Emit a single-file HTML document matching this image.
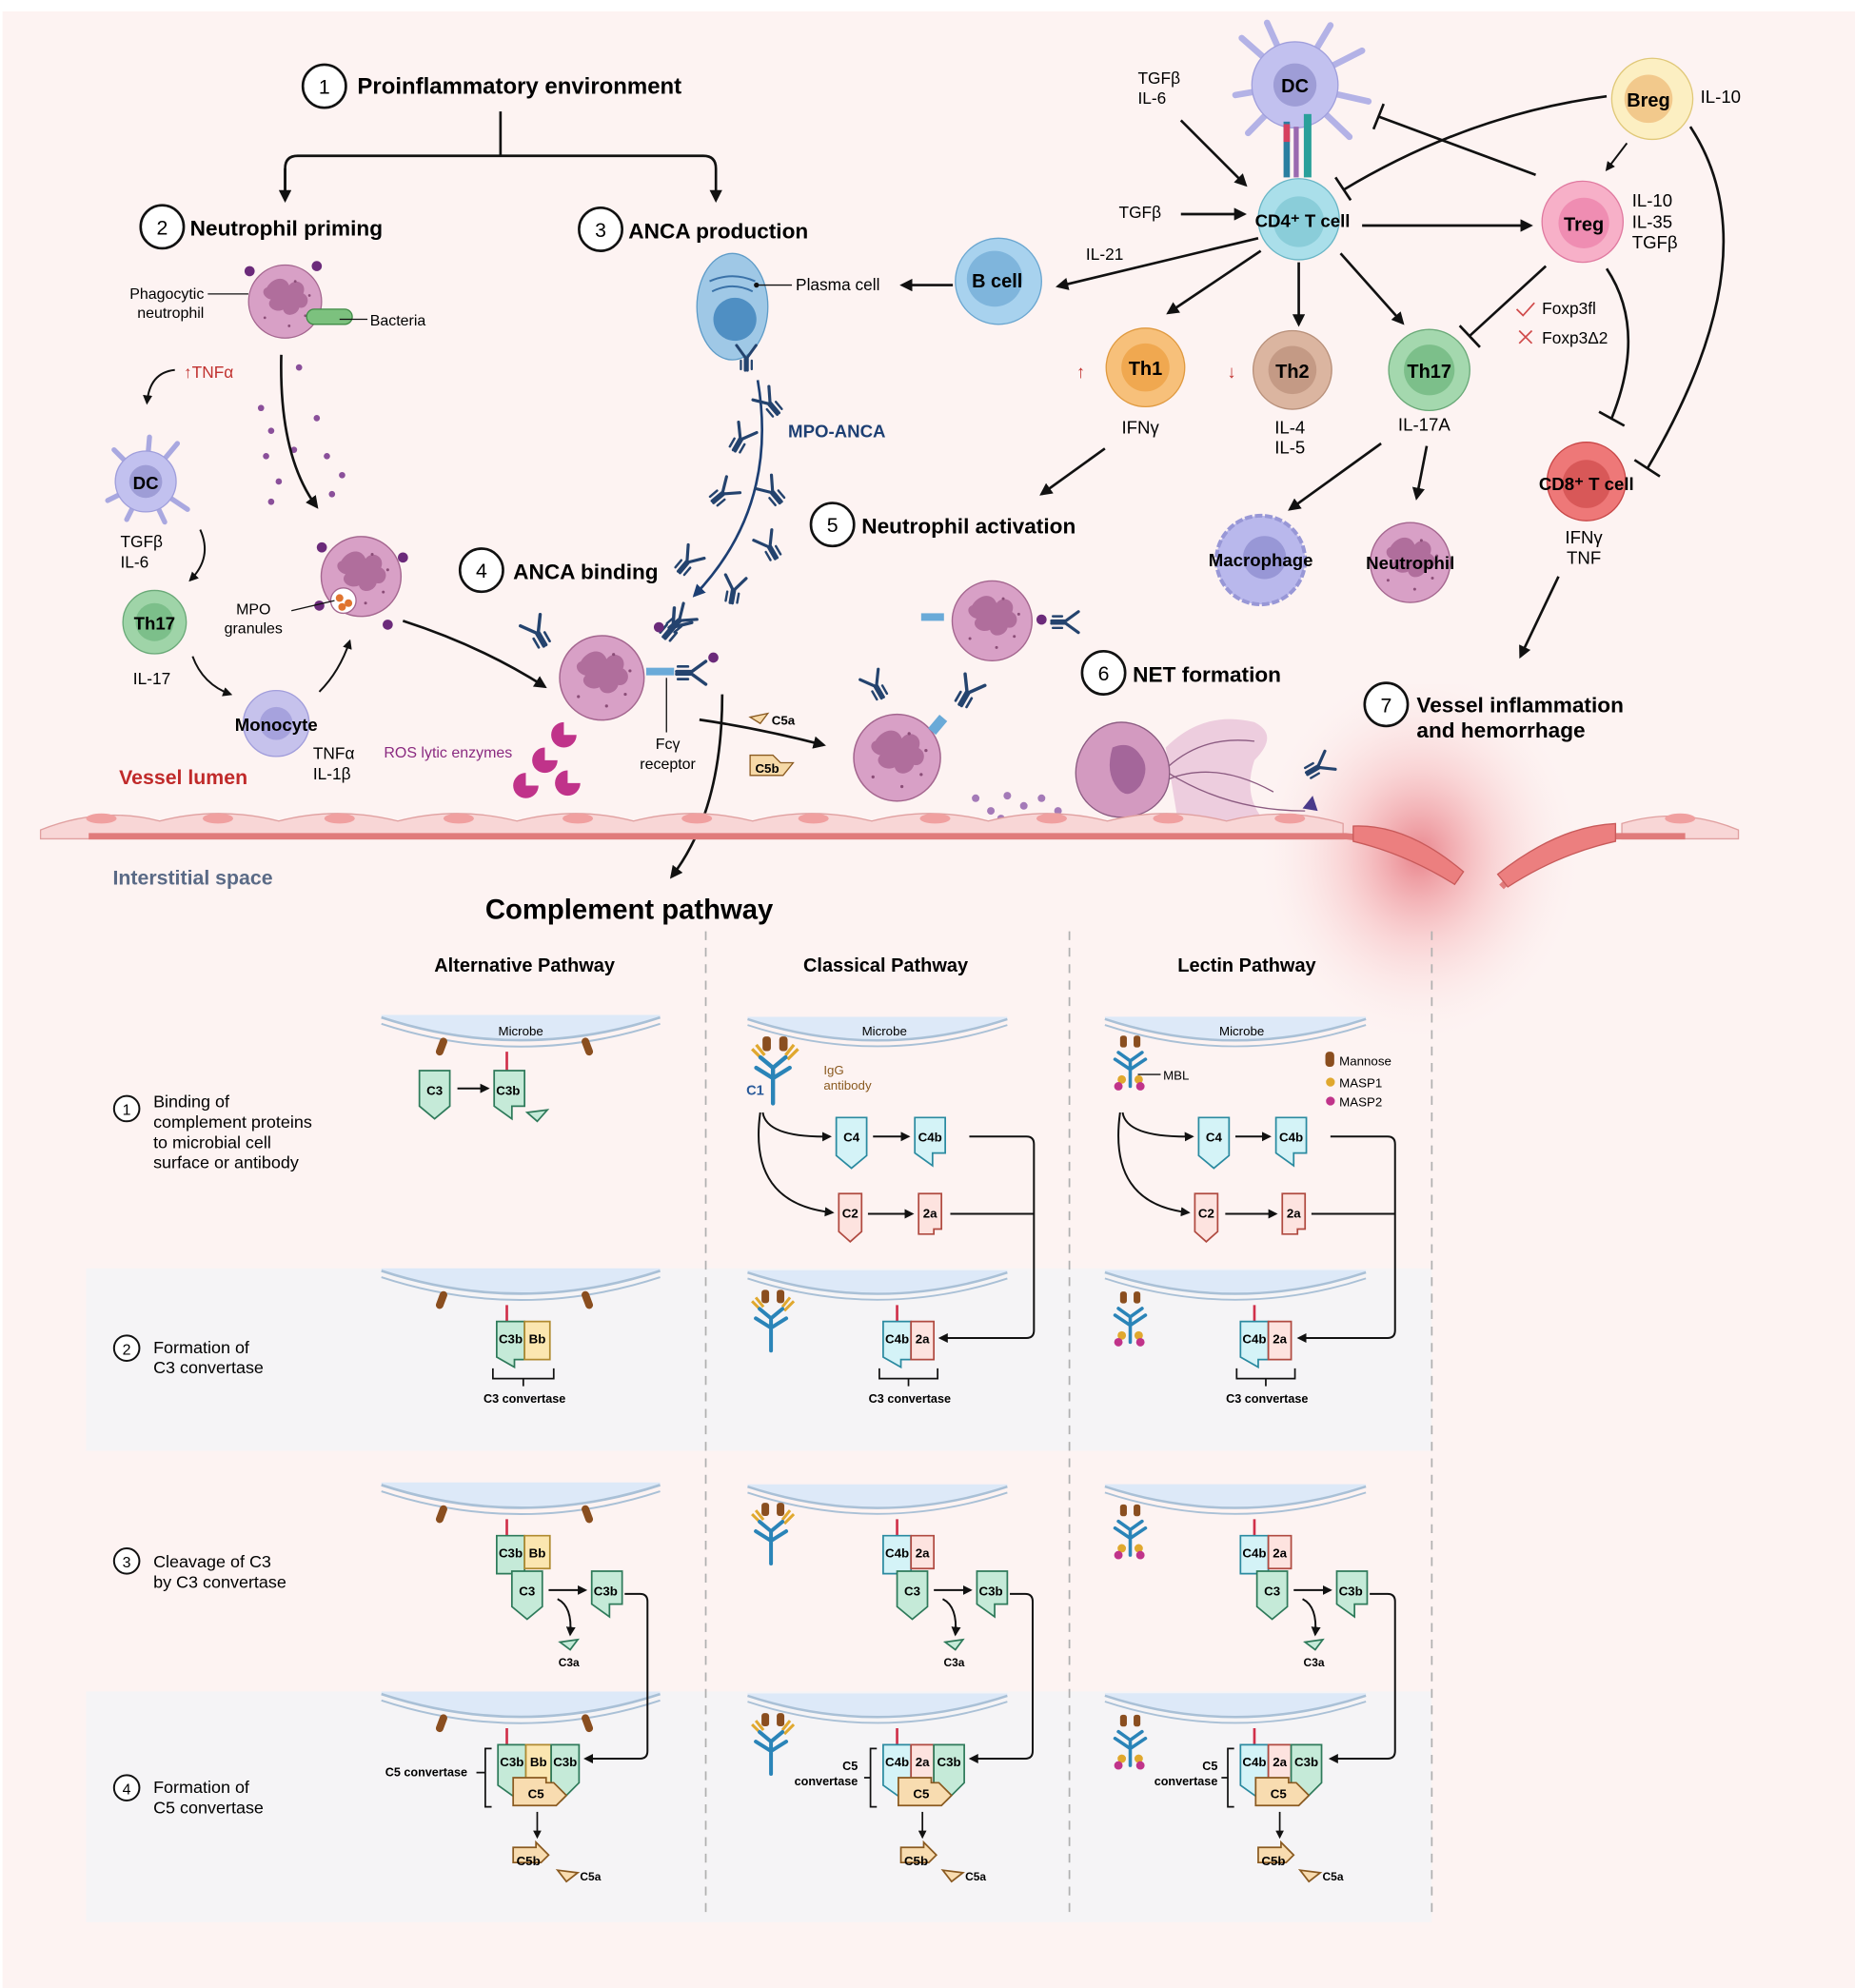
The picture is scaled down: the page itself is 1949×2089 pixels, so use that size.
<!DOCTYPE html>
<html><head><meta charset="utf-8"><style>
html,body{margin:0;padding:0;background:#fff;}
svg{display:block;font-family:"Liberation Sans",sans-serif;}
.b{font-weight:bold;}
</style></head><body>
<svg width="1949" height="2089" viewBox="0 0 1464 1569" preserveAspectRatio="none">
<defs>
<marker id="ar" viewBox="0 0 10 10" refX="8" refY="5" markerWidth="5" markerHeight="5" orient="auto"><path d="M0,0L10,5L0,10z" fill="#111"/></marker>
<marker id="arb" viewBox="0 0 10 10" refX="8" refY="5" markerWidth="5" markerHeight="5" orient="auto"><path d="M0,0L10,5L0,10z" fill="#1d3f73"/></marker>
<radialGradient id="glow" cx="0.5" cy="0.45" r="0.5"><stop offset="0" stop-color="#e05560" stop-opacity="0.7"/><stop offset="0.45" stop-color="#f08a90" stop-opacity="0.3"/><stop offset="1" stop-color="#fdf3f2" stop-opacity="0"/></radialGradient>
<symbol id="neu" viewBox="-40 -40 80 80" overflow="visible">
<circle r="36" fill="#d8a0c6" stroke="#a4668f" stroke-width="1.2"/>
<path d="M-18,-14c6,-10 18,-12 22,-2c6,-8 18,-2 14,8c8,4 4,16 -4,14c-2,8 -14,10 -16,2c-8,4 -18,-4 -12,-10c-8,-2 -10,-10 -4,-12z" fill="#b06e9c"/>
<circle cx="10" cy="-20" r="1.3" fill="#8a4d77"/><circle cx="20" cy="14" r="1.3" fill="#8a4d77"/><circle cx="-20" cy="16" r="1.3" fill="#8a4d77"/><circle cx="4" cy="24" r="1.3" fill="#8a4d77"/><circle cx="24" cy="-6" r="1.3" fill="#8a4d77"/>
</symbol>
<symbol id="ab" viewBox="-12 -14 24 28" overflow="visible">
<g stroke="#24436e" stroke-width="2.6" fill="none" stroke-linecap="round"><path d="M-1,12V0L-9,-11M1,12V0L9,-11"/><path d="M-5,11V3M5,11V3" stroke-width="2"/></g>
</symbol>
<symbol id="mic" viewBox="0 0 220 40" overflow="visible">
<path d="M0,0Q110,36 220,0V-2H0z" fill="#dde9f8"/>
<path d="M0,0Q110,36 220,0" fill="none" stroke="#a9c0d6" stroke-width="2"/>
<path d="M0,5Q110,41 220,5" fill="none" stroke="#a9c0d6" stroke-width="1.5"/>
</symbol>
<symbol id="mbl" viewBox="0 0 60 80" overflow="visible">
<rect x="12" y="0" width="8" height="14" rx="3" fill="#8a4e1f"/><rect x="28" y="0" width="8" height="14" rx="3" fill="#8a4e1f"/>
<g stroke="#2a84b8" stroke-width="4" fill="none" stroke-linecap="round"><path d="M24,60V30L10,20M24,30L38,20M24,40L6,28M24,40L42,28"/></g>
<circle cx="14" cy="52" r="5" fill="#e0a82e"/><circle cx="34" cy="52" r="5" fill="#e0a82e"/><circle cx="10" cy="60" r="5" fill="#c0338a"/><circle cx="36" cy="60" r="5" fill="#c0338a"/>
</symbol>
<symbol id="igg" viewBox="0 0 60 80" overflow="visible">
<rect x="14" y="0" width="8" height="14" rx="3" fill="#8a4e1f"/><rect x="30" y="0" width="8" height="14" rx="3" fill="#8a4e1f"/>
<g stroke="#e0a82e" stroke-width="3" fill="none"><path d="M4,12L14,22M8,8L16,18M48,12L38,22M44,8L36,18"/></g>
<g stroke="#2a84b8" stroke-width="4" fill="none" stroke-linecap="round"><path d="M24,64V30L12,20M24,30L36,20M24,40L8,30M24,40L40,30"/></g>
</symbol>
</defs>

<rect x="0" y="0" width="1464" height="1569" fill="#fdf3f2"/>
<rect x="0" y="0" width="1464" height="9" fill="#fff"/>
<rect x="0" y="0" width="2" height="1569" fill="#fff"/>
<rect x="68" y="1001" width="1062" height="144" fill="#f5f4f6"/>
<rect x="68" y="1335" width="1062" height="182" fill="#f5f4f6"/>
<rect x="990" y="540" width="260" height="300" fill="url(#glow)"/>

<circle cx="256" cy="68" r="17" fill="#fff" stroke="#111" stroke-width="2"/><text x="256" y="74" font-size="16" text-anchor="middle">1</text>
<text x="282" y="74" font-size="18" class="b">Proinflammatory environment</text>
<path d="M395,88V123H235Q225,123 225,133V158M395,123H555Q565,123 565,133V158" fill="none" stroke="#111" stroke-width="2" marker-end="url(#ar)"/>
<path d="M225,133V158" fill="none" stroke="#111" stroke-width="2" marker-end="url(#ar)"/>

<circle cx="128" cy="179" r="17" fill="#fff" stroke="#111" stroke-width="2"/><text x="128" y="185" font-size="16" text-anchor="middle">2</text>
<text x="150" y="186" font-size="17" class="b">Neutrophil priming</text>
<circle cx="474" cy="181" r="17" fill="#fff" stroke="#111" stroke-width="2"/><text x="474" y="187" font-size="16" text-anchor="middle">3</text>
<text x="496" y="188" font-size="17" class="b">ANCA production</text>

<use href="#neu" x="193" y="206" width="64" height="64"/>
<circle cx="197" cy="214" r="4" fill="#6b2a7a"/><circle cx="250" cy="210" r="4" fill="#6b2a7a"/>
<rect x="242" y="244" width="36" height="12" rx="6" fill="#7cc17e" stroke="#3f8a45"/>
<text x="161" y="236" font-size="12" text-anchor="end">Phagocytic</text><text x="161" y="251" font-size="12" text-anchor="end">neutrophil</text>
<line x1="164" y1="232" x2="196" y2="232" stroke="#111"/>
<line x1="268" y1="252" x2="290" y2="252" stroke="#111"/>
<text x="292" y="257" font-size="12">Bacteria</text>
<text x="145" y="298" font-size="13" fill="#c0302e">↑TNFα</text>
<path d="M138,292Q118,294 116,318" fill="none" stroke="#111" stroke-width="1.5" marker-end="url(#ar)"/>
<g fill="#8a4f9a"><circle cx="206" cy="322" r="2.5"/><circle cx="214" cy="340" r="2.5"/><circle cx="210" cy="360" r="2.5"/><circle cx="220" cy="380" r="2.5"/><circle cx="232" cy="355" r="2.5"/><circle cx="250" cy="330" r="2.5"/><circle cx="258" cy="360" r="2.5"/><circle cx="270" cy="375" r="2.5"/><circle cx="262" cy="390" r="2.5"/><circle cx="214" cy="396" r="2.5"/><circle cx="236" cy="290" r="2.5"/></g>
<path d="M222,280Q220,360 250,400" fill="none" stroke="#111" stroke-width="2" marker-end="url(#ar)"/>

<g stroke="#a9a8e0" stroke-width="4" stroke-linecap="round"><path d="M115,380L90,355M115,380L140,350M115,380L85,395M115,380L148,402M115,380L100,410M115,380L130,412M115,380L118,345"/></g>
<circle cx="115" cy="380" r="24" fill="#c2c1ef" stroke="#9f9edb"/><circle cx="115" cy="380" r="13" fill="#9e9dd6"/>
<text x="115" y="386" font-size="14" text-anchor="middle" class="b">DC</text>
<text x="95" y="432" font-size="13">TGFβ</text><text x="95" y="448" font-size="13">IL-6</text>
<path d="M158,418Q168,440 150,458" fill="none" stroke="#111" stroke-width="1.5" marker-end="url(#ar)"/>
<circle cx="122" cy="491" r="25" fill="#9fd4a8" stroke="#6aa978"/><circle cx="122" cy="491" r="15" fill="#7cbf8a"/>
<text x="122" y="497" font-size="14" text-anchor="middle" class="b">Th17</text>
<text x="105" y="540" font-size="13">IL-17</text>
<path d="M152,518Q160,540 182,548" fill="none" stroke="#111" stroke-width="1.5" marker-end="url(#ar)"/>
<circle cx="218" cy="571" r="26" fill="#c6c2ec" stroke="#a19ddb"/><circle cx="218" cy="571" r="13" fill="#a6a2dd"/>
<text x="218" y="577" font-size="14" text-anchor="middle" class="b">Monocyte</text>
<text x="247" y="599" font-size="13">TNFα</text><text x="247" y="615" font-size="13">IL-1β</text>
<path d="M252,546Q268,530 276,506" fill="none" stroke="#111" stroke-width="1.5" marker-end="url(#ar)"/>

<use href="#neu" x="250" y="420" width="70" height="70"/>
<circle cx="271" cy="474" r="10" fill="#fff" stroke="#a4668f"/><circle cx="268" cy="472" r="3" fill="#e0742e"/><circle cx="275" cy="476" r="3" fill="#e0742e"/><circle cx="270" cy="479" r="3" fill="#e0742e"/>
<g fill="#6b2a7a"><circle cx="254" cy="432" r="4"/><circle cx="318" cy="440" r="4"/><circle cx="306" cy="493" r="4"/><circle cx="252" cy="478" r="4"/></g>
<text x="200" y="485" font-size="12" text-anchor="middle">MPO</text><text x="200" y="500" font-size="12" text-anchor="middle">granules</text>
<line x1="230" y1="482" x2="264" y2="474" stroke="#111"/>
<path d="M318,490Q380,510 430,542" fill="none" stroke="#111" stroke-width="2" marker-end="url(#ar)"/>

<circle cx="380" cy="450" r="17" fill="#fff" stroke="#111" stroke-width="2"/><text x="380" y="456" font-size="16" text-anchor="middle">4</text>
<text x="405" y="457" font-size="17" class="b">ANCA binding</text>

<use href="#neu" x="438" y="498" width="74" height="74"/>
<use href="#ab" x="412" y="485" width="24" height="28" transform="rotate(-30 424 499)"/>
<use href="#ab" x="520" y="480" width="24" height="28" transform="rotate(40 532 494)"/>
<rect x="510" y="527" width="22" height="6" fill="#6aaad8"/>
<use href="#ab" x="534" y="517" width="24" height="28" transform="rotate(90 546 531)"/>
<circle cx="563" cy="519" r="4" fill="#6b2a7a"/><circle cx="520" cy="495" r="4" fill="#6b2a7a"/>
<line x1="526" y1="535" x2="526" y2="578" stroke="#111"/>
<text x="527" y="591" font-size="12" text-anchor="middle">Fcγ</text><text x="527" y="607" font-size="12" text-anchor="middle">receptor</text>
<g fill="#c0338a"><path d="M445,570a10,10 0 1 0 10,10h-10z"/><path d="M430,590a10,10 0 1 0 10,10h-10z"/><path d="M415,610a10,10 0 1 0 10,10h-10z"/><path d="M448,608a10,10 0 1 0 10,10h-10z"/></g>
<text x="303" y="598" font-size="12" fill="#8a2a80">ROS lytic enzymes</text>
<text x="94" y="619" font-size="16" class="b" fill="#c02a2a">Vessel lumen</text>

<ellipse cx="578" cy="242" rx="28" ry="42" fill="#9fc8e6" stroke="#5f9cc8"/>
<circle cx="580" cy="252" r="17" fill="#4f8fc3"/>
<path d="M560,222Q578,214 596,222M562,230Q578,222 594,230" fill="none" stroke="#3a72a8" stroke-width="1.5"/>
<circle cx="597" cy="225" r="2" fill="#111"/><line x1="597" y1="225" x2="625" y2="225" stroke="#111"/>
<text x="628" y="229" font-size="13">Plasma cell</text>
<use href="#ab" x="578" y="270" width="22" height="24"/>
<circle cx="788" cy="222" r="34" fill="#a8d2ee" stroke="#6aa6d0"/><circle cx="785" cy="220" r="22" fill="#7fb5dc"/>
<text x="787" y="227" font-size="15" text-anchor="middle" class="b">B cell</text>
<line x1="752" y1="225" x2="712" y2="225" stroke="#111" stroke-width="2" marker-end="url(#ar)"/>
<path d="M598,300Q615,400 548,470" fill="none" stroke="#1d3f73" stroke-width="2" marker-end="url(#arb)"/>
<text x="622" y="345" font-size="14" class="b" fill="#1d3f73">MPO-ANCA</text>
<use href="#ab" x="596" y="305" width="22" height="26" transform="rotate(-40 607 318)"/>
<use href="#ab" x="574" y="333" width="22" height="26" transform="rotate(30 585 346)"/>
<use href="#ab" x="560" y="376" width="22" height="26" transform="rotate(50 571 389)"/>
<use href="#ab" x="598" y="375" width="22" height="26" transform="rotate(-40 609 388)"/>
<use href="#ab" x="596" y="418" width="22" height="26" transform="rotate(-30 607 431)"/>
<use href="#ab" x="532" y="430" width="22" height="26" transform="rotate(40 543 443)"/>
<use href="#ab" x="568" y="452" width="22" height="26" transform="rotate(10 579 465)"/>
<use href="#ab" x="526" y="476" width="22" height="26" transform="rotate(50 537 489)"/>
<path d="M570,548Q570,640 530,692" fill="none" stroke="#111" stroke-width="2" marker-end="url(#ar)"/>
<path d="M552,568Q600,575 650,588" fill="none" stroke="#111" stroke-width="2" marker-end="url(#ar)"/>
<path d="M592,566l14,-3l-6,8z" fill="#f6d9a8" stroke="#8a5a20"/><text x="609" y="572" font-size="10" class="b">C5a</text>
<path d="M592,596h18l6,6h10l-8,10h-26z" fill="#f6d9a8" stroke="#8a5a20"/><text x="596" y="610" font-size="10" class="b">C5b</text>

<g stroke="#b3b2e6" stroke-width="5" stroke-linecap="round"><path d="M1022,67L980,30M1022,67L1000,18M1022,67L1050,20M1022,67L1075,40M1022,67L1080,80M1022,67L975,75M1022,67L985,105M1022,67L1065,108"/></g>
<circle cx="1022" cy="67" r="34" fill="#c2c1ef" stroke="#a09fdc"/><circle cx="1022" cy="67" r="17" fill="#9e9dd6"/>
<text x="1022" y="73" font-size="15" text-anchor="middle" class="b">DC</text>
<g><rect x="1013" y="96" width="5" height="44" fill="#2a7ea0"/><rect x="1013" y="98" width="5" height="14" fill="#d6405e"/><rect x="1021" y="100" width="4" height="40" fill="#9a6ab0"/><rect x="1029" y="90" width="6" height="50" fill="#2aa09a"/></g>
<text x="898" y="66" font-size="13">TGFβ</text><text x="898" y="82" font-size="13">IL-6</text>
<line x1="932" y1="95" x2="983" y2="146" stroke="#111" stroke-width="2" marker-end="url(#ar)"/>
<text x="883" y="172" font-size="13">TGFβ</text>
<line x1="932" y1="169" x2="982" y2="169" stroke="#111" stroke-width="2" marker-end="url(#ar)"/>
<circle cx="1025" cy="173" r="32" fill="#aadfea" stroke="#6ab6c6"/><circle cx="1025" cy="175" r="20" fill="#8acdd9"/>
<text x="1028" y="179" font-size="14" text-anchor="middle" class="b">CD4⁺ T cell</text>
<text x="857" y="205" font-size="13">IL-21</text>
<line x1="993" y1="188" x2="835" y2="226" stroke="#111" stroke-width="2" marker-end="url(#ar)"/>
<line x1="1075" y1="178" x2="1208" y2="178" stroke="#111" stroke-width="2" marker-end="url(#ar)"/>
<line x1="995" y1="198" x2="922" y2="247" stroke="#111" stroke-width="2" marker-end="url(#ar)"/>
<line x1="1025" y1="207" x2="1025" y2="256" stroke="#111" stroke-width="2" marker-end="url(#ar)"/>
<line x1="1058" y1="200" x2="1107" y2="255" stroke="#111" stroke-width="2" marker-end="url(#ar)"/>
<circle cx="1304" cy="78" r="32" fill="#fcefc2" stroke="#e0c878"/><circle cx="1301" cy="78" r="19" fill="#f2c98c"/>
<text x="1301" y="84" font-size="15" text-anchor="middle" class="b">Breg</text>
<text x="1342" y="81" font-size="14">IL-10</text>
<path d="M1268,76Q1160,90 1060,150" fill="none" stroke="#111" stroke-width="2"/><line x1="1054" y1="140" x2="1066" y2="158" stroke="#111" stroke-width="2"/>
<line x1="1212" y1="138" x2="1088" y2="92" stroke="#111" stroke-width="2"/><line x1="1092" y1="82" x2="1084" y2="102" stroke="#111" stroke-width="2"/>
<line x1="1284" y1="113" x2="1268" y2="134" stroke="#111" stroke-width="1.5" marker-end="url(#ar)"/>
<circle cx="1249" cy="175" r="32" fill="#f7b0c8" stroke="#e07aa0"/><circle cx="1250" cy="176" r="20" fill="#ef8db2"/>
<text x="1250" y="182" font-size="15" text-anchor="middle" class="b">Treg</text>
<text x="1288" y="163" font-size="14">IL-10</text><text x="1288" y="180" font-size="14">IL-35</text><text x="1288" y="196" font-size="14">TGFβ</text>
<line x1="1220" y1="210" x2="1160" y2="265" stroke="#111" stroke-width="2"/><line x1="1152" y1="257" x2="1168" y2="274" stroke="#111" stroke-width="2"/>
<path d="M1197,244l5,5l9,-10" fill="none" stroke="#d04a4a" stroke-width="1.3"/><text x="1217" y="248" font-size="13">Foxp3fl</text>
<path d="M1199,261l10,10M1209,261l-10,10" stroke="#d04a4a" stroke-width="1.3"/><text x="1217" y="271" font-size="13">Foxp3Δ2</text>
<path d="M1268,212Q1300,260 1272,330" fill="none" stroke="#111" stroke-width="2"/><line x1="1262" y1="325" x2="1282" y2="336" stroke="#111" stroke-width="2"/>
<path d="M1334,100Q1400,200 1300,370" fill="none" stroke="#111" stroke-width="2"/><line x1="1290" y1="363" x2="1310" y2="376" stroke="#111" stroke-width="2"/>
<circle cx="904" cy="290" r="31" fill="#f7c07a" stroke="#e09a40"/><circle cx="904" cy="290" r="19" fill="#f0a850"/>
<text x="904" y="296" font-size="15" text-anchor="middle" class="b">Th1</text>
<text x="853" y="298" font-size="14" fill="#c0302e" text-anchor="middle">↑</text>
<circle cx="1020" cy="292" r="31" fill="#dbb5a0" stroke="#b8907a"/><circle cx="1020" cy="292" r="19" fill="#c49a85"/>
<text x="1020" y="298" font-size="15" text-anchor="middle" class="b">Th2</text>
<text x="972" y="298" font-size="14" fill="#c0302e" text-anchor="middle">↓</text>
<circle cx="1128" cy="292" r="32" fill="#a4d8ae" stroke="#6aa978"/><circle cx="1128" cy="292" r="20" fill="#7cbf8a"/>
<text x="1128" y="298" font-size="15" text-anchor="middle" class="b">Th17</text>
<text x="900" y="342" font-size="14" text-anchor="middle">IFNγ</text>
<text x="1018" y="342" font-size="14" text-anchor="middle">IL-4</text><text x="1018" y="358" font-size="14" text-anchor="middle">IL-5</text>
<text x="1124" y="340" font-size="14" text-anchor="middle">IL-17A</text>
<line x1="872" y1="354" x2="822" y2="390" stroke="#111" stroke-width="2" marker-end="url(#ar)"/>
<line x1="1090" y1="350" x2="1018" y2="402" stroke="#111" stroke-width="2" marker-end="url(#ar)"/>
<line x1="1126" y1="352" x2="1118" y2="393" stroke="#111" stroke-width="2" marker-end="url(#ar)"/>
<circle cx="657" cy="414" r="17" fill="#fff" stroke="#111" stroke-width="2"/><text x="657" y="420" font-size="16" text-anchor="middle">5</text>
<text x="680" y="421" font-size="17" class="b">Neutrophil activation</text>
<circle cx="995" cy="442" r="35" fill="#b9b8ec" stroke="#9897d6" stroke-dasharray="6 2" stroke-width="3"/><circle cx="998" cy="440" r="17" fill="#9897d6"/>
<text x="995" y="447" font-size="14" text-anchor="middle" class="b">Macrophage</text>
<use href="#neu" x="1078" y="409" width="70" height="70"/>
<text x="1113" y="449" font-size="14" text-anchor="middle" class="b">Neutrophil</text>
<circle cx="1252" cy="380" r="31" fill="#ee7878" stroke="#c84848"/><circle cx="1252" cy="382" r="19" fill="#d85858"/>
<text x="1252" y="387" font-size="14" text-anchor="middle" class="b">CD8⁺ T cell</text>
<text x="1250" y="429" font-size="14" text-anchor="middle">IFNγ</text><text x="1250" y="445" font-size="14" text-anchor="middle">TNF</text>
<line x1="1230" y1="455" x2="1200" y2="518" stroke="#111" stroke-width="2" marker-end="url(#ar)"/>

<use href="#neu" x="748" y="455" width="70" height="70"/>
<rect x="727" y="484" width="18" height="6" fill="#6aaad8"/><circle cx="822" cy="489" r="4" fill="#6b2a7a"/>
<use href="#ab" x="830" y="478" width="22" height="26" transform="rotate(90 841 491)"/>
<use href="#neu" x="670" y="560" width="76" height="76"/>
<use href="#ab" x="680" y="528" width="22" height="26" transform="rotate(-30 691 541)"/>
<rect x="736" y="565" width="8" height="14" fill="#6aaad8" transform="rotate(40 740 572)"/>
<use href="#ab" x="752" y="532" width="24" height="28" transform="rotate(30 764 546)"/>
<circle cx="871" cy="531" r="17" fill="#fff" stroke="#111" stroke-width="2"/><text x="871" y="537" font-size="16" text-anchor="middle">6</text>
<text x="894" y="538" font-size="17" class="b">NET formation</text>
<circle cx="1094" cy="556" r="17" fill="#fff" stroke="#111" stroke-width="2"/><text x="1094" y="562" font-size="16" text-anchor="middle">7</text>
<text x="1118" y="562" font-size="17" class="b">Vessel inflammation</text><text x="1118" y="582" font-size="17" class="b">and hemorrhage</text>
<path d="M920,590Q950,560 990,570Q1010,580 990,600Q980,630 1000,650H930z" fill="#e6bcd6" opacity="0.7"/>
<path d="M922,605Q950,580 990,585M922,615Q960,600 1005,625M922,610Q970,640 1030,640" fill="none" stroke="#8a5a80"/>
<path d="M885,570c20,0 38,18 38,40s-18,35 -38,35s-36,-15 -36,-35s16,-40 36,-40z" fill="#d39ac0" stroke="#8a5a80"/>
<path d="M878,590q14,-6 22,6q8,10 0,24q-10,12 -18,2q-10,-12 -4,-32z" fill="#a4669a"/>
<g fill="#a47ab8"><circle cx="770" cy="630" r="3"/><circle cx="782" cy="640" r="3"/><circle cx="795" cy="628" r="3"/><circle cx="808" cy="636" r="3"/><circle cx="822" cy="630" r="3"/><circle cx="835" cy="640" r="3"/><circle cx="790" cy="646" r="3"/></g>
<use href="#ab" x="1030" y="592" width="22" height="26" transform="rotate(60 1041 605)"/><path d="M1028,638l8,-10l4,12z" fill="#4a3a8a"/>

<g fill="#f8d6d6" stroke="#e0a0a0" stroke-width="1">
<path d="M32,655Q80,636 126,648Q172,636 220,648Q266,636 314,648Q360,636 408,648Q454,636 500,648Q546,636 594,648Q640,636 688,648Q734,636 780,648Q826,636 874,648Q920,636 968,648Q1014,636 1060,650V662H32z"/>
<path d="M1280,650Q1326,636 1372,655V662H1280z"/>
</g>
<g fill="#f0a0a0"><ellipse cx="80" cy="646" rx="12" ry="4"/><ellipse cx="172" cy="646" rx="12" ry="4"/><ellipse cx="268" cy="646" rx="12" ry="4"/><ellipse cx="362" cy="646" rx="12" ry="4"/><ellipse cx="456" cy="646" rx="12" ry="4"/><ellipse cx="550" cy="646" rx="12" ry="4"/><ellipse cx="642" cy="646" rx="12" ry="4"/><ellipse cx="738" cy="646" rx="12" ry="4"/><ellipse cx="830" cy="646" rx="12" ry="4"/><ellipse cx="922" cy="646" rx="12" ry="4"/><ellipse cx="1018" cy="646" rx="12" ry="4"/><ellipse cx="1326" cy="646" rx="12" ry="4"/></g>
<path d="M70,660H1062Q1110,664 1150,696" fill="none" stroke="#e07b7b" stroke-width="5"/>
<path d="M1185,700Q1220,664 1268,660H1330" fill="none" stroke="#e07b7b" stroke-width="5"/>
<path d="M1068,652Q1110,650 1155,688L1148,698Q1110,674 1068,664z" fill="#ec7f7f" stroke="#c85a5a"/>
<path d="M1275,650Q1230,652 1182,690L1190,700Q1230,674 1275,664z" fill="#ec7f7f" stroke="#c85a5a"/>

<text x="89" y="698" font-size="16" class="b" fill="#5a6a86">Interstitial space</text>
<text x="383" y="725" font-size="22" class="b">Complement pathway</text>

<g stroke="#b0b0b0" stroke-width="1.3" stroke-dasharray="7 6"><line x1="557" y1="735" x2="557" y2="1512"/><line x1="844" y1="735" x2="844" y2="1512"/><line x1="1130" y1="735" x2="1130" y2="1512"/></g>
<text x="414" y="767" font-size="15" class="b" text-anchor="middle">Alternative Pathway</text>
<text x="699" y="767" font-size="15" class="b" text-anchor="middle">Classical Pathway</text>
<text x="984" y="767" font-size="15" class="b" text-anchor="middle">Lectin Pathway</text>
<g font-size="13.5">
<circle cx="100" cy="875" r="10" fill="#fff" stroke="#111" stroke-width="1.5"/><text x="100" y="880" font-size="12" text-anchor="middle">1</text>
<text x="121" y="874">Binding of</text><text x="121" y="890">complement proteins</text><text x="121" y="906">to microbial cell</text><text x="121" y="922">surface or antibody</text>
<circle cx="100" cy="1064" r="10" fill="#fff" stroke="#111" stroke-width="1.5"/><text x="100" y="1069" font-size="12" text-anchor="middle">2</text>
<text x="121" y="1068">Formation of</text><text x="121" y="1084">C3 convertase</text>
<circle cx="100" cy="1232" r="10" fill="#fff" stroke="#111" stroke-width="1.5"/><text x="100" y="1237" font-size="12" text-anchor="middle">3</text>
<text x="121" y="1237">Cleavage of C3</text><text x="121" y="1253">by C3 convertase</text>
<circle cx="100" cy="1411" r="10" fill="#fff" stroke="#111" stroke-width="1.5"/><text x="100" y="1416" font-size="12" text-anchor="middle">4</text>
<text x="121" y="1415">Formation of</text><text x="121" y="1431">C5 convertase</text>
</g>

<g>
<use href="#mic" x="300" y="803" width="222" height="40"/><use href="#mic" x="590" y="803" width="205" height="40"/><use href="#mic" x="872" y="803" width="206" height="40"/>
<use href="#mic" x="300" y="1003" width="222" height="40"/><use href="#mic" x="590" y="1003" width="205" height="40"/><use href="#mic" x="872" y="1003" width="206" height="40"/>
<use href="#mic" x="300" y="1172" width="222" height="40"/><use href="#mic" x="590" y="1172" width="205" height="40"/><use href="#mic" x="872" y="1172" width="206" height="40"/>
<use href="#mic" x="300" y="1337" width="222" height="40"/><use href="#mic" x="590" y="1337" width="205" height="40"/><use href="#mic" x="872" y="1337" width="206" height="40"/>
</g>
<g font-size="10" text-anchor="middle"><text x="411" y="817">Microbe</text><text x="698" y="817">Microbe</text><text x="980" y="817">Microbe</text></g>
<g stroke="#8a4e1f" stroke-width="6" stroke-linecap="round"><path d="M350,822l-3,8M462,822l3,8M350,1022l-3,8M462,1022l3,8M350,1191l-3,8M462,1191l3,8M350,1356l-3,8M462,1356l3,8"/></g>
<g stroke="#d0304a" stroke-width="2"><path d="M400,830v15M400,1030v13M400,1199v13M400,1364v13M708,1030v13M708,1199v13M708,1364v13M990,1030v13M990,1199v13M990,1364v13"/></g>
<use href="#igg" x="590" y="818" width="50" height="66"/><text x="589" y="864" font-size="11" class="b" fill="#2a5a9a">C1</text>
<text x="650" y="848" font-size="10" fill="#8a5a20">IgG</text><text x="650" y="860" font-size="10" fill="#8a5a20">antibody</text>
<use href="#igg" x="588" y="1018" width="50" height="60"/><use href="#igg" x="588" y="1186" width="50" height="60"/><use href="#igg" x="588" y="1352" width="50" height="60"/>
<use href="#mbl" x="876" y="816" width="40" height="56"/><use href="#mbl" x="876" y="1018" width="40" height="56"/><use href="#mbl" x="876" y="1186" width="40" height="56"/><use href="#mbl" x="876" y="1352" width="40" height="56"/>
<line x1="898" y1="848" x2="916" y2="848" stroke="#111"/><text x="918" y="852" font-size="10">MBL</text>
<rect x="1046" y="830" width="7" height="12" rx="3" fill="#8a4e1f"/><text x="1057" y="841" font-size="10">Mannose</text>
<circle cx="1050" cy="854" r="3.5" fill="#e0a82e"/><text x="1057" y="858" font-size="10">MASP1</text>
<circle cx="1050" cy="869" r="3.5" fill="#c0338a"/><text x="1057" y="873" font-size="10">MASP2</text>

<g stroke-width="1.3" font-size="10" font-weight="bold" text-anchor="middle">
<path d="M331,845h24v28l-12,10l-12,-10z" fill="#c5ead8" stroke="#2e7a5a"/><text x="343" y="864">C3</text>
<path d="M390,845h24v28l-10,0l0,10l-14,-10z" fill="#c5ead8" stroke="#2e7a5a"/><text x="401" y="864">C3b</text>
<path d="M416,878l16,-2l-8,9z" fill="#c5ead8" stroke="#2e7a5a"/>
<path d="M660,882h24v30l-12,10l-12,-10z" fill="#d4f3f7" stroke="#2a8aa0"/><text x="672" y="901">C4</text>
<path d="M722,882h24v28l-10,0l0,10l-14,-10z" fill="#d4f3f7" stroke="#2a8aa0"/><text x="734" y="901">C4b</text>
<path d="M662,942h18v30l-9,8l-9,-8z" fill="#fde3df" stroke="#b04a40"/><text x="671" y="961">C2</text>
<path d="M725,942h18v28h-6v4h-12z" fill="#fde3df" stroke="#b04a40"/><text x="734" y="961">2a</text>
<path d="M946,882h24v30l-12,10l-12,-10z" fill="#d4f3f7" stroke="#2a8aa0"/><text x="958" y="901">C4</text>
<path d="M1007,882h24v28l-10,0l0,10l-14,-10z" fill="#d4f3f7" stroke="#2a8aa0"/><text x="1019" y="901">C4b</text>
<path d="M943,942h18v30l-9,8l-9,-8z" fill="#fde3df" stroke="#b04a40"/><text x="952" y="961">C2</text>
<path d="M1012,942h18v28h-6v4h-12z" fill="#fde3df" stroke="#b04a40"/><text x="1021" y="961">2a</text>
</g>
<g fill="none" stroke="#111" stroke-width="1.5">
<line x1="361" y1="859" x2="385" y2="859" marker-end="url(#ar)"/>
<path d="M602,878Q605,898 655,897" marker-end="url(#ar)"/><path d="M600,878Q590,950 657,957" marker-end="url(#ar)"/>
<line x1="689" y1="897" x2="717" y2="897" marker-end="url(#ar)"/><line x1="685" y1="958" x2="720" y2="958" marker-end="url(#ar)"/>
<path d="M765,897H810Q816,897 816,903V1050Q816,1056 810,1056H742" marker-end="url(#ar)"/>
<path d="M750,958H816"/>
<path d="M886,878Q889,898 941,897" marker-end="url(#ar)"/><path d="M884,878Q874,950 938,957" marker-end="url(#ar)"/>
<line x1="975" y1="897" x2="1002" y2="897" marker-end="url(#ar)"/><line x1="967" y1="958" x2="1007" y2="958" marker-end="url(#ar)"/>
<path d="M1050,897H1095Q1101,897 1101,903V1050Q1101,1056 1095,1056H1025" marker-end="url(#ar)"/>
<path d="M1035,958H1101"/>
</g>

<g stroke-width="1.3" font-size="10" font-weight="bold" text-anchor="middle">
<path d="M392,1043h22v30h-8v6l-14,-8z" fill="#c5ead8" stroke="#2e7a5a"/><text x="403" y="1060">C3b</text>
<path d="M414,1043h20v30h-20z" fill="#fbe6b0" stroke="#b08a30"/><text x="424" y="1060">Bb</text>
<path d="M697,1043h22v30h-8v6l-14,-8z" fill="#d4f3f7" stroke="#2a8aa0"/><text x="708" y="1060">C4b</text>
<path d="M719,1043h18v30h-18z" fill="#fde3df" stroke="#b04a40"/><text x="728" y="1060">2a</text>
<path d="M979,1043h22v30h-8v6l-14,-8z" fill="#d4f3f7" stroke="#2a8aa0"/><text x="990" y="1060">C4b</text>
<path d="M1001,1043h18v30h-18z" fill="#fde3df" stroke="#b04a40"/><text x="1010" y="1060">2a</text>
</g>
<g fill="none" stroke="#111" stroke-width="1.3"><path d="M389,1080v8h48v-8M413,1088v6M694,1080v8h46v-8M717,1088v6M976,1080v8h46v-8M999,1088v6"/></g>
<g font-size="9.5" font-weight="bold" text-anchor="middle"><text x="414" y="1107">C3 convertase</text><text x="718" y="1107">C3 convertase</text><text x="1000" y="1107">C3 convertase</text></g>

<g stroke-width="1.3" font-size="10" font-weight="bold" text-anchor="middle">
<path d="M392,1212h22v30h-22z" fill="#c5ead8" stroke="#2e7a5a"/><text x="403" y="1229">C3b</text>
<path d="M414,1212h20v26h-20z" fill="#fbe6b0" stroke="#b08a30"/><text x="424" y="1229">Bb</text>
<path d="M404,1240h24v28l-12,10l-12,-10z" fill="#c5ead8" stroke="#2e7a5a"/><text x="416" y="1259">C3</text>
<path d="M467,1240h24v26l-10,0l0,10l-14,-10z" fill="#c5ead8" stroke="#2e7a5a"/><text x="478" y="1259">C3b</text>
<path d="M442,1296l14,-2l-6,8z" fill="#c5ead8" stroke="#2e7a5a"/><text x="449" y="1315" font-size="9">C3a</text>
<path d="M697,1212h22v30h-22z" fill="#d4f3f7" stroke="#2a8aa0"/><text x="708" y="1229">C4b</text>
<path d="M719,1212h18v26h-18z" fill="#fde3df" stroke="#b04a40"/><text x="728" y="1229">2a</text>
<path d="M708,1240h24v28l-12,10l-12,-10z" fill="#c5ead8" stroke="#2e7a5a"/><text x="720" y="1259">C3</text>
<path d="M771,1240h24v26l-10,0l0,10l-14,-10z" fill="#c5ead8" stroke="#2e7a5a"/><text x="782" y="1259">C3b</text>
<path d="M746,1296l14,-2l-6,8z" fill="#c5ead8" stroke="#2e7a5a"/><text x="753" y="1315" font-size="9">C3a</text>
<path d="M979,1212h22v30h-22z" fill="#d4f3f7" stroke="#2a8aa0"/><text x="990" y="1229">C4b</text>
<path d="M1001,1212h18v26h-18z" fill="#fde3df" stroke="#b04a40"/><text x="1010" y="1229">2a</text>
<path d="M992,1240h24v28l-12,10l-12,-10z" fill="#c5ead8" stroke="#2e7a5a"/><text x="1004" y="1259">C3</text>
<path d="M1055,1240h24v26l-10,0l0,10l-14,-10z" fill="#c5ead8" stroke="#2e7a5a"/><text x="1066" y="1259">C3b</text>
<path d="M1030,1296l14,-2l-6,8z" fill="#c5ead8" stroke="#2e7a5a"/><text x="1037" y="1315" font-size="9">C3a</text>
</g>
<g fill="none" stroke="#111" stroke-width="1.5">
<line x1="433" y1="1255" x2="462" y2="1255" marker-end="url(#ar)"/><path d="M440,1262Q452,1268 450,1290" marker-end="url(#ar)"/>
<path d="M493,1258H505Q511,1258 511,1264V1382Q511,1388 505,1388H462" marker-end="url(#ar)"/>
<line x1="737" y1="1255" x2="766" y2="1255" marker-end="url(#ar)"/><path d="M744,1262Q756,1268 754,1290" marker-end="url(#ar)"/>
<path d="M797,1258H809Q815,1258 815,1264V1382Q815,1388 809,1388H766" marker-end="url(#ar)"/>
<line x1="1021" y1="1255" x2="1050" y2="1255" marker-end="url(#ar)"/><path d="M1028,1262Q1040,1268 1038,1290" marker-end="url(#ar)"/>
<path d="M1081,1258H1095Q1101,1258 1101,1264V1382Q1101,1388 1095,1388H1050" marker-end="url(#ar)"/>
</g>

<g stroke-width="1.3" font-size="10" font-weight="bold" text-anchor="middle">
<path d="M393,1377h22v34l-8,8l-14,-10z" fill="#c5ead8" stroke="#2e7a5a"/><text x="404" y="1394">C3b</text>
<path d="M415,1377h20v30h-20z" fill="#fbe6b0" stroke="#b08a30"/><text x="425" y="1394">Bb</text>
<path d="M435,1377h22v30l-14,14l-8,-6z" fill="#c5ead8" stroke="#2e7a5a"/><text x="446" y="1394">C3b</text>
<path d="M405,1403h26v4h6l10,10l-8,8h-34z" fill="#f8dcb0" stroke="#8a5a20"/><text x="423" y="1419">C5</text>
<path d="M697,1377h22v34l-8,8l-14,-10z" fill="#d4f3f7" stroke="#2a8aa0"/><text x="708" y="1394">C4b</text>
<path d="M719,1377h18v30h-18z" fill="#fde3df" stroke="#b04a40"/><text x="728" y="1394">2a</text>
<path d="M737,1377h24v30l-14,14l-10,-6z" fill="#c5ead8" stroke="#2e7a5a"/><text x="749" y="1394">C3b</text>
<path d="M709,1403h26v4h6l10,10l-8,8h-34z" fill="#f8dcb0" stroke="#8a5a20"/><text x="727" y="1419">C5</text>
<path d="M979,1377h22v34l-8,8l-14,-10z" fill="#d4f3f7" stroke="#2a8aa0"/><text x="990" y="1394">C4b</text>
<path d="M1001,1377h18v30h-18z" fill="#fde3df" stroke="#b04a40"/><text x="1010" y="1394">2a</text>
<path d="M1019,1377h24v30l-14,14l-10,-6z" fill="#c5ead8" stroke="#2e7a5a"/><text x="1031" y="1394">C3b</text>
<path d="M991,1403h26v4h6l10,10l-8,8h-34z" fill="#f8dcb0" stroke="#8a5a20"/><text x="1009" y="1419">C5</text>
<path d="M405,1458h18v-4l10,10l-6,6h-22z" fill="#f8dcb0" stroke="#8a5a20"/><text x="417" y="1472">C5b</text>
<path d="M440,1476l16,2l-9,7z" fill="#f8dcb0" stroke="#8a5a20"/><text x="466" y="1484" font-size="9">C5a</text>
<path d="M711,1458h18v-4l10,10l-6,6h-22z" fill="#f8dcb0" stroke="#8a5a20"/><text x="723" y="1472">C5b</text>
<path d="M744,1476l16,2l-9,7z" fill="#f8dcb0" stroke="#8a5a20"/><text x="770" y="1484" font-size="9">C5a</text>
<path d="M993,1458h18v-4l10,10l-6,6h-22z" fill="#f8dcb0" stroke="#8a5a20"/><text x="1005" y="1472">C5b</text>
<path d="M1026,1476l16,2l-9,7z" fill="#f8dcb0" stroke="#8a5a20"/><text x="1052" y="1484" font-size="9">C5a</text>
</g>
<g fill="none" stroke="#111" stroke-width="1.3">
<path d="M388,1380h-5v46h5M376,1399h7M692,1380h-5v46h5M682,1403h5M974,1380h-5v46h5M964,1403h5"/>
<line x1="424" y1="1430" x2="424" y2="1450" marker-end="url(#ar)"/><line x1="728" y1="1430" x2="728" y2="1450" marker-end="url(#ar)"/><line x1="1010" y1="1430" x2="1010" y2="1450" marker-end="url(#ar)"/>
</g>
<g font-size="9.5" font-weight="bold"><text x="304" y="1402">C5 convertase</text>
<text x="677" y="1397" text-anchor="end">C5</text><text x="677" y="1409" text-anchor="end">convertase</text>
<text x="961" y="1397" text-anchor="end">C5</text><text x="961" y="1409" text-anchor="end">convertase</text></g>
</svg>
</body></html>
